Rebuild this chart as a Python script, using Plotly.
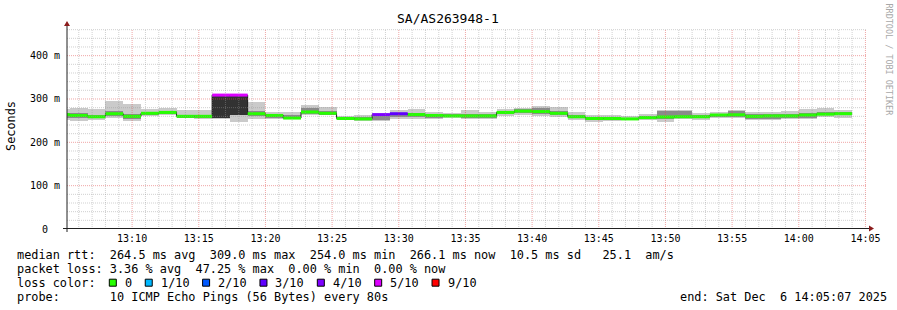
import plotly.graph_objects as go
import pandas as pd

# ---------------- data ----------------
step_start = pd.date_range("2025-12-06 13:04:00", periods=45, freq="80s")
STEP_MS = 80000

median = [264, 262, 259, 266, 260, 267, 269, 260, 260, 309, 309, 266, 262, 256, 270,
          267, 255, 254, 264, 266, 264, 262, 261, 261, 261, 269, 272, 271, 267, 259,
          255, 255, 254, 257, 258.5, 259, 259, 263, 263.5, 260, 261, 261, 263, 265, 266.1]
rtt_min = [251, 250, 252, 257, 250, 260, 263, 255, 254, 253, 247, 253, 253, 253, 263,
           262, 251, 249, 250, 254, 254, 254, 255, 254, 253, 260, 262, 261, 258, 251,
           247, 249, 251, 251, 248, 253, 252, 255, 255, 252, 251, 254, 254, 258, 256]
rtt_lo = [256, 255, 255, 260, 254, 263, 266, 257, 256, 256, 263, 261, 257, 256, 266,
          264, 253, 252, 252, 258, 258, 257, 258, 257, 256, 265, 267, 266, 262, 255,
          252, 252, 253, 254, 254, 255, 255, 258, 259, 254, 253, 256, 256, 262, 262]
rtt_hi = [268, 268, 264, 272, 265, 270, 273, 263, 263, 309, 309, 272, 265, 262, 279,
          272, 258, 258, 264, 268, 268, 265, 265, 266, 266, 273, 276, 280, 272, 263,
          258, 258, 256, 261, 273, 273, 262, 266, 273, 265, 266, 266, 267, 270, 271]
rtt_max = [278, 280, 277, 296, 289, 277, 279, 274, 274, 309, 309, 293, 269, 269, 286,
           281, 261, 264, 266, 274, 277, 269, 267, 274, 271, 278, 280, 283, 281, 270,
           264, 264, 260, 266, 274, 274, 268, 270, 274, 270, 270, 273, 277, 280, 274]
loss = [0, 0, 0, 0, 0, 0, 0, 0, 0, 5, 5, 0, 0, 0, 0, 0, 0, 0, 4, 3, 0, 0, 0, 0, 0,
        0, 0, 0, 0, 0, 0, 0, 0, 0, 0, 0, 0, 0, 0, 0, 0, 0, 0, 0, 0]

loss_steps = [0, 1, 2, 3, 4, 5, 9]
loss_labels = ["0", "1/10", "2/10", "3/10", "4/10", "5/10", "9/10"]
loss_colors = ["#26ff00", "#00b8ff", "#0059ff", "#5e00ff", "#7e00ff", "#dd00ff", "#ff0000"]

y_tickvals = [0, 100, 200, 300, 400]
y_ticktext = ["0\u00a0\u00a0", "100 m", "200 m", "300 m", "400 m"]

title = "SA/AS263948-1"
legend_rows = [
    "median rtt:  264.5 ms avg  309.0 ms max  254.0 ms min  266.1 ms now  10.5 ms sd   25.1  am/s",
    "packet loss: 3.36 % avg  47.25 % max  0.00 % min  0.00 % now",
    "loss color:",
    "probe:       10 ICMP Echo Pings (56 Bytes) every 80s",
]
end_text = "end: Sat Dec  6 14:05:07 2025"

# ---------------- geometry ----------------
FW, FH = 897, 310
L, R, T, B = 67, 30, 29, 81
PW, PH = FW - L - R, FH - T - B
BOT = T + PH
MONO = "DejaVu Sans Mono"
X_START = pd.Timestamp("2025-12-06 13:05:07")
X_END = pd.Timestamp("2025-12-06 14:05:07")
Y_MAX = 461.5


def px(xp):
    return (xp - L) / PW


def py(yp):
    return (BOT - yp) / PH


def color_idx(l):
    for i, s in enumerate(loss_steps):
        if l <= s:
            return i
    return len(loss_steps) - 1


fig = go.Figure()

# smoke
fig.add_trace(go.Bar(x=step_start, base=rtt_min,
                     y=[a - b for a, b in zip(rtt_max, rtt_min)],
                     width=STEP_MS, offset=0,
                     marker=dict(color="#cacaca", line=dict(width=0)),
                     hoverinfo="skip"))
core_colors = ["#323232" if l >= 5 else "#8a8a8a" for l in loss]
fig.add_trace(go.Bar(x=step_start, base=rtt_lo,
                     y=[a - b for a, b in zip(rtt_hi, rtt_lo)],
                     width=STEP_MS, offset=0,
                     marker=dict(color=core_colors, line=dict(width=0)),
                     hoverinfo="skip"))

# median thin line
step_end = step_start + pd.Timedelta(milliseconds=STEP_MS)
fig.add_trace(go.Scatter(x=list(step_start) + [step_end[-1]], y=median + [median[-1]],
                         mode="lines", line=dict(shape="hv", color="#202020", width=1),
                         hoverinfo="skip"))

# median coloured by loss
for ci, col in enumerate(loss_colors):
    xs, ys = [], []
    for t0, t1, m, l in zip(step_start, step_end, median, loss):
        if color_idx(l) == ci:
            xs += [t0, t1, None]
            ys += [m, m, None]
    if xs:
        fig.add_trace(go.Scatter(x=xs, y=ys, mode="lines",
                                 line=dict(color=col, width=3), hoverinfo="skip"))

shapes = []
# grid (drawn above the data like rrdtool)
minor_c = "rgba(150,150,150,0.45)"
major_c = "rgba(225,80,80,0.5)"
for t in pd.date_range("2025-12-06 13:06:00", "2025-12-06 14:05:00", freq="1min"):
    shapes.append(dict(type="line", xref="x", yref="paper", x0=t, x1=t, y0=0, y1=1,
                       line=dict(color=major_c if t.minute % 5 == 0 else minor_c,
                                 width=1, dash="1px,1px"), layer="above"))
for v in range(20, int(Y_MAX), 20):
    shapes.append(dict(type="line", xref="paper", yref="y", x0=0, x1=1, y0=v, y1=v,
                       line=dict(color=major_c if v % 100 == 0 else minor_c,
                                 width=1, dash="1px,1px"), layer="above"))

# axes with arrows
axis_c = "#202020"
arrow_c = "#8b1c1c"
shapes.append(dict(type="line", xref="paper", yref="paper", x0=px(63), x1=px(869),
                   y0=py(BOT - 0.5), y1=py(BOT - 0.5), line=dict(color=axis_c, width=1), layer="above"))
shapes.append(dict(type="line", xref="paper", yref="paper", x0=px(67), x1=px(67),
                   y0=py(232), y1=py(24), line=dict(color=axis_c, width=1), layer="above"))
shapes.append(dict(type="path", xref="paper", yref="paper",
                   path=f"M {px(869)},{py(225.5)} L {px(874)},{py(228.5)} L {px(869)},{py(231.5)} Z",
                   fillcolor=arrow_c, line=dict(width=0), layer="above"))
shapes.append(dict(type="path", xref="paper", yref="paper",
                   path=f"M {px(64)},{py(26)} L {px(67)},{py(21)} L {px(70)},{py(26)} Z",
                   fillcolor=arrow_c, line=dict(width=0), layer="above"))

annotations = []
annotations.append(dict(text=title, x=px(448), y=py(19), xref="paper", yref="paper",
                        showarrow=False, xanchor="center", yanchor="middle",
                        font=dict(family=MONO, size=13, color="#000")))
annotations.append(dict(text="Seconds", x=px(11), y=py(126), xref="paper", yref="paper",
                        showarrow=False, xanchor="center", yanchor="middle", textangle=-90,
                        font=dict(family=MONO, size=11.86, color="#000")))
annotations.append(dict(text="RRDTOOL / TOBI OETIKER", x=px(888), y=py(59.5), xref="paper",
                        yref="paper", showarrow=False, xanchor="center", yanchor="middle",
                        textangle=90, font=dict(family=MONO, size=8.45, color="#a8a8a8")))

row_y = [255, 268.7, 282.7, 296.7]
for txt, yy in zip(legend_rows, row_y):
    annotations.append(dict(text=txt.replace(" ", "\u00a0"), x=px(14.5), y=py(yy),
                            xref="paper", yref="paper", showarrow=False,
                            xanchor="left", yanchor="middle",
                            font=dict(family=MONO, size=11.86, color="#000")))
annotations.append(dict(text=end_text.replace(" ", "\u00a0"), x=px(677.5), y=py(row_y[3]),
                        xref="paper", yref="paper", showarrow=False,
                        xanchor="left", yanchor="middle",
                        font=dict(family=MONO, size=11.86, color="#000")))

# loss colour legend boxes
xs = 109.3
for lab, col in zip(loss_labels, loss_colors):
    shapes.append(dict(type="rect", xref="paper", yref="paper",
                       x0=px(xs), x1=px(xs + 7), y0=py(row_y[2] + 3.5), y1=py(row_y[2] - 3.5),
                       fillcolor=col, line=dict(color="#000", width=1)))
    annotations.append(dict(text=lab.replace(" ", "\u00a0"), x=px(xs + 13.5), y=py(row_y[2]),
                            xref="paper", yref="paper", showarrow=False,
                            xanchor="left", yanchor="middle",
                            font=dict(family=MONO, size=11.86, color="#000")))
    xs += 28.8 + len(lab) * 7.14

fig.update_layout(
    width=FW, height=FH,
    margin=dict(l=L, r=R, t=T, b=B, pad=0),
    paper_bgcolor="#ffffff", plot_bgcolor="#ffffff",
    showlegend=False, barmode="overlay", bargap=0,
    shapes=shapes, annotations=annotations,
    xaxis=dict(type="date", range=[X_START, X_END], showgrid=False, zeroline=False,
               showline=False, ticks="", tickformat="%H:%M", dtick=300000,
               tick0="2025-12-06 13:00:00", ticklabelstandoff=2,
               tickfont=dict(family=MONO, size=10, color="#000")),
    yaxis=dict(range=[0, Y_MAX], showgrid=False, zeroline=False, showline=False,
               ticks="", tickvals=y_tickvals, ticktext=y_ticktext, ticklabelstandoff=6,
               tickfont=dict(family=MONO, size=10, color="#000")),
)

fig.write_html("out.html")
